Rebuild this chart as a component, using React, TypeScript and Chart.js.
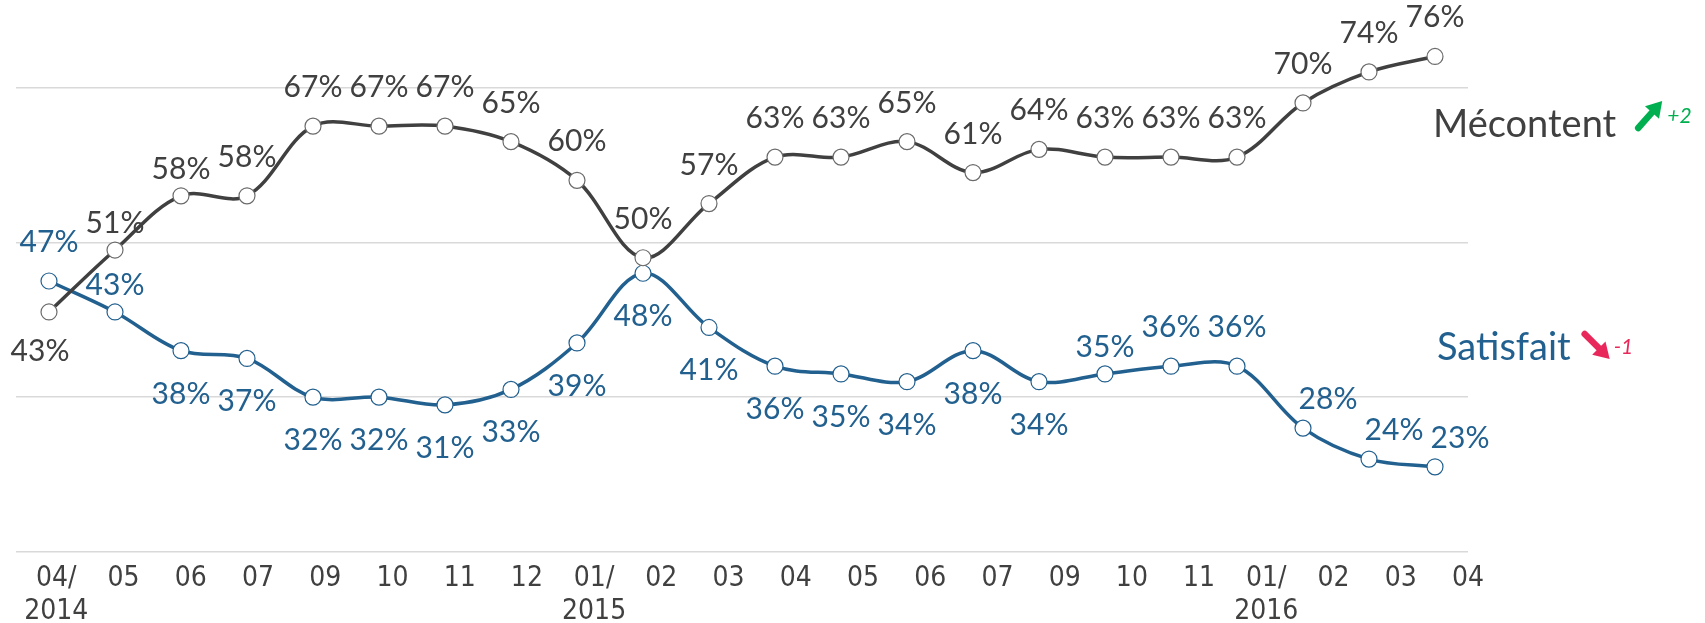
import React, { useEffect, useRef } from 'react';
import { Chart, registerables } from 'chart.js';

Chart.register(...registerables);

// ---- data ----
const MONTHS = ['04/\n2014', '05', '06', '07', '09', '10', '11', '12', '01/\n2015', '02', '03', '04', '05', '06', '07', '09', '10', '11', '01/\n2016', '02', '03', '04'];
const MECONTENT = [43, 51, 58, 58, 67, 67, 67, 65, 60, 50, 57, 63, 63, 65, 61, 64, 63, 63, 63, 70, 74, 76];
const SATISFAIT = [47, 43, 38, 37, 32, 32, 31, 33, 39, 48, 41, 36, 35, 34, 38, 34, 35, 36, 36, 28, 24, 23];
const Y_TICKS = [12, 32, 52, 72];
const SERIES_NAMES = ['Mécontent', 'Satisfait'];
const SERIES_CHANGES = ['+2', '-1'];

// label placement codes (a = above, n = near above, b = below, bl = below-left, r = above-right)
const MECONTENT_PLACE = ['bl', 'n', 'n', 'a', 'a', 'a', 'a', 'a', 'a', 'a', 'a', 'a', 'a', 'a', 'a', 'a', 'a', 'a', 'a', 'a', 'a', 'a'];
const SATISFAIT_PLACE = ['a', 'n', 'b', 'b', 'b', 'b', 'b', 'b', 'b', 'b', 'b', 'b', 'b', 'b', 'b', 'b', 'n', 'a', 'a', 'r', 'r', 'r'];

const GREY = '#404040';
const BLUE = '#22608f';
const GREEN = '#00b050';
const PINK = '#e8285a';

const OFFSETS: Record<string, [number, number]> = {
  a: [0, -40],
  n: [0, -28],
  b: [0, 42],
  bl: [-9, 38],
  r: [25, -30],
};

const LABEL_FONT = '400 30px Lato, "Open Sans", sans-serif';
const NAME_FONT = '38px Lato, "Open Sans", sans-serif';

const valueLabels = {
  id: 'valueLabels',
  afterDatasetsDraw(chart: any) {
    const ctx = chart.ctx;
    const places = [MECONTENT_PLACE, SATISFAIT_PLACE];
    chart.data.datasets.forEach((ds: any, di: number) => {
      const meta = chart.getDatasetMeta(di);
      meta.data.forEach((pt: any, i: number) => {
        const [dx, dy] = OFFSETS[places[di][i]];
        ctx.save();
        ctx.font = LABEL_FONT;
        ctx.fillStyle = ds.borderColor;
        ctx.textAlign = 'center';
        ctx.textBaseline = 'alphabetic';
        ctx.fillText(ds.data[i] + '%', pt.x + dx, pt.y + dy + 11);
        ctx.restore();
      });
    });
  },
};

function drawArrow(ctx: CanvasRenderingContext2D, x1: number, y1: number, x2: number, y2: number, color: string) {
  const ang = Math.atan2(y2 - y1, x2 - x1);
  const head = 18;
  const bx = x2 - Math.cos(ang) * head * 0.7;
  const by = y2 - Math.sin(ang) * head * 0.7;
  ctx.save();
  ctx.strokeStyle = color;
  ctx.fillStyle = color;
  ctx.lineWidth = 6.5;
  ctx.lineCap = 'round';
  ctx.beginPath();
  ctx.moveTo(x1, y1);
  ctx.lineTo(bx, by);
  ctx.stroke();
  ctx.beginPath();
  ctx.moveTo(x2, y2);
  ctx.lineTo(x2 - Math.cos(ang - 0.55) * head, y2 - Math.sin(ang - 0.55) * head);
  ctx.lineTo(x2 - Math.cos(ang + 0.55) * head, y2 - Math.sin(ang + 0.55) * head);
  ctx.closePath();
  ctx.fill();
  ctx.restore();
}

const seriesNames = {
  id: 'seriesNames',
  afterDraw(chart: any) {
    const ctx = chart.ctx;
    const y = chart.scales.y;
    const area = chart.chartArea;
    const x0 = area.right - 35;
    const entries = [
      { name: SERIES_NAMES[0], change: SERIES_CHANGES[0], color: GREY, arrow: GREEN, base: y.getPixelForValue(65.6), up: true },
      { name: SERIES_NAMES[1], change: SERIES_CHANGES[1], color: BLUE, arrow: PINK, base: y.getPixelForValue(36.8), up: false },
    ];
    entries.forEach((e, k) => {
      ctx.save();
      ctx.font = NAME_FONT;
      ctx.fillStyle = e.color;
      ctx.textAlign = 'left';
      ctx.textBaseline = 'alphabetic';
      const x = x0 + (k === 1 ? 4 : 0);
      ctx.fillText(e.name, x, e.base);
      const w = ctx.measureText(e.name).width;
      const ax = x + w + (e.up ? 22 : 14);
      if (e.up) {
        drawArrow(ctx, ax, e.base - 9, ax + 24, e.base - 36, e.arrow);
      } else {
        drawArrow(ctx, ax, e.base - 26, ax + 25, e.base - 1, e.arrow);
      }
      ctx.font = 'italic 21px Lato, "Open Sans", sans-serif';
      ctx.fillStyle = e.arrow;
      ctx.fillText(e.change, ax + (e.up ? 29 : 29), e.base - (e.up ? 14 : 6));
      ctx.restore();
    });
  },
};

export default function App() {
  const ref = useRef<HTMLCanvasElement | null>(null);

  useEffect(() => {
    document.body.style.margin = '0';
    const canvas = ref.current;
    if (!canvas) return;
    const chart = new Chart(canvas, {
      type: 'line',
      data: {
        labels: MONTHS,
        datasets: [
          {
            label: SERIES_NAMES[0],
            data: MECONTENT,
            borderColor: GREY,
            borderWidth: 3.5,
            tension: 0.35,
            pointRadius: 8,
            pointBorderWidth: 1.2,
            pointBackgroundColor: '#ffffff',
            pointBorderColor: '#6b6b6b',
          },
          {
            label: SERIES_NAMES[1],
            data: SATISFAIT,
            borderColor: BLUE,
            borderWidth: 3.5,
            tension: 0.35,
            pointRadius: 8,
            pointBorderWidth: 1.2,
            pointBackgroundColor: '#ffffff',
            pointBorderColor: BLUE,
          },
        ],
      },
      options: {
        animation: false,
        responsive: false,
        devicePixelRatio: 1,
        layout: { padding: { left: 16, right: 237, top: 10, bottom: 0 } },
        plugins: { legend: { display: false }, tooltip: { enabled: false } },
        scales: {
          x: {
            type: 'category',
            display: false,
            offset: true,
          },
          x2: {
            type: 'linear',
            position: 'bottom',
            min: -0.6,
            max: 21,
            grid: { display: false, drawTicks: false },
            border: { display: false },
            afterBuildTicks: (s: any) => {
              s.ticks = MONTHS.map((_, i) => ({ value: i }));
            },
            afterFit: (s: any) => {
              s.height = 71;
            },
            ticks: {
              autoSkip: false,
              maxRotation: 0,
              padding: 10,
              color: GREY,
              font: { family: '"Liberation Sans Narrow", "DejaVu Sans Condensed", sans-serif', size: 28, lineHeight: 1.18 },
              callback: (v: any) => (MONTHS[v] !== undefined ? MONTHS[v].split('\n') : ''),
            },
          },
          y: {
            min: 12,
            max: 82,
            afterBuildTicks: (s: any) => {
              s.ticks = Y_TICKS.map((v) => ({ value: v }));
            },
            afterFit: (s: any) => {
              s.width = 0;
            },
            ticks: { display: false },
            border: { display: false },
            grid: { color: '#d9d9d9', lineWidth: 1.5, drawTicks: false },
          },
        },
      },
      plugins: [valueLabels, seriesNames],
    } as any);
    return () => chart.destroy();
  }, []);

  return (
    <div style={{ width: 1705, height: 623, position: 'relative' }}>
      <canvas ref={ref} width={1705} height={623} style={{ display: 'block' }} />
    </div>
  );
}
